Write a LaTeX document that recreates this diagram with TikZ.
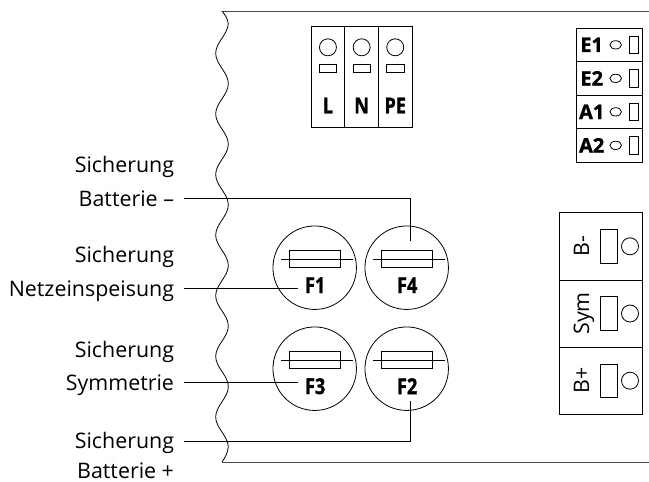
\documentclass[tikz,border=0pt]{standalone}
\usepackage{fontspec}
\setmainfont{Open Sans}[BoldFeatures={FakeBold=1.3}]
\usepackage{tikz}
\usetikzlibrary{calc,shapes.geometric}
\newcommand{\narrowbold}[1]{\scalebox{.82}[1]{\bfseries #1}}
\tikzset{
  edgeline/.style={line width=.9pt,draw=black!70},
  thinline/.style={line width=.8pt},
  lbl/.style={anchor=east,inner sep=0pt,outer xsep=10pt,text height=15pt,text depth=0pt,font=\fontsize{21.4}{24}\selectfont},
  fusering/.style={draw,circle,thinline,inner sep=0pt,minimum size=83.5pt},
  fusebody/.style={draw,thinline,inner sep=0pt,minimum width=50.5pt,minimum height=17pt},
  fusename/.style={inner sep=0pt,outer xsep=7pt,font=\fontsize{22}{24}\selectfont},
  cell/.style={draw,thinline,anchor=north west,inner sep=0pt},
  hole/.style={draw,circle,thinline,inner sep=0pt,minimum size=17pt},
  slot/.style={draw,thinline,inner sep=0pt}
}
\begin{document}
\begin{tikzpicture}[x=1pt,y=-1pt]
  \useasboundingbox (0,0) rectangle (649,482);
  % housing
  \draw[edgeline] (649,11)--(222,11);
  \draw[edgeline] (649,462)--(222,462);
  \draw[thinline] (222,11) .. controls (225,15) and (228,19) .. (228,23)
    plot[domain=23:447,samples=113,smooth] ({222+6.3*cos((\x-23)*5.94)},\x)
    .. controls (228,452) and (225,458) .. (222,462);
  % L N PE
  \foreach \nm/\xa/\txt in {L/310.7/L,N/344.4/N,PE/378/PE} {
    \node[cell,minimum width=33.7pt,minimum height=100.7pt] (cell\nm) at (\xa,26) {};
    \node[hole] (hole\nm) at ($(cell\nm.north)+(0,21.3)$) {};
    \node[slot,minimum width=17.4pt,minimum height=8pt] (slot\nm) at ($(cell\nm.north)+(0,42.3)$) {};
    \node[inner sep=0pt,font=\fontsize{22}{24}\selectfont] (name\nm) at ($(cell\nm.north)+(0,79.5)$) {\narrowbold{\txt}};
  }
  % E1 E2 A1 A2
  \foreach \nm/\ya in {E1/27.7,E2/61.2,A1/94.7,A2/128.2} {
    \node[cell,minimum width=66.6pt,minimum height=33.5pt] (cell\nm) at (575.7,\ya) {};
    \node[inner sep=0pt,font=\fontsize{20}{22}\selectfont\bfseries] (name\nm) at ($(cell\nm.west)+(16,0)$) {\nm};
    \node[draw,ellipse,thinline,inner sep=0pt,minimum width=11.5pt,minimum height=8.3pt] (hole\nm) at ($(cell\nm.west)+(40,0)$) {};
    \node[slot,minimum width=9pt,minimum height=17.7pt] (slot\nm) at ($(cell\nm.west)+(58.1,0)$) {};
  }
  % B- Sym B+
  \foreach \nm/\ya/\txt in {Bm/212.3/B-,Sym/279.5/Sym,Bp/346.7/B+} {
    \node[cell,minimum width=83.3pt,minimum height=67.2pt] (cell\nm) at (559,\ya) {};
    \node[rotate=90,inner sep=0pt,text height=15pt,text depth=0pt,font=\fontsize{21.4}{24}\selectfont] (name\nm) at ($(cell\nm.west)+(22.5,0)$) {\txt};
    \node[slot,minimum width=17pt,minimum height=33.5pt] (slot\nm) at ($(cell\nm.west)+(50.2,0)$) {};
    \node[hole] (hole\nm) at ($(cell\nm.west)+(71,0)$) {};
  }
  % fuses
  \foreach \nm/\xa/\ya in {F1/314.7/267.7,F4/406.7/267.7,F3/314.7/368.7,F2/406.7/368.7} {
    \node[fusering] (ring\nm) at (\xa,\ya) {};
    \node[fusebody] (body\nm) at ($(ring\nm.center)+(0,-8.5)$) {};
    \draw[thinline] ($(ring\nm.center)+(-33.5,-8.5)$) -- ($(ring\nm.center)+(38,-8.5)$);
    \node[fusename] (\nm) at ($(ring\nm.center)+(0.5,17.5)$) {\narrowbold{\nm}};
  }
  \coordinate (wireF4) at (410,241);
  \coordinate (wireF2) at (410,400.5);
  % labels
  \node[lbl] (sichA) at (184,164.5) {Sicherung};
  \node[lbl] (batMinus) at (184,198.7) {Batterie --};
  \node[lbl] (sichB) at (184,254.5) {Sicherung};
  \node[lbl] (netz) at (184,288.5) {Netzeinspeisung};
  \node[lbl] (sichC) at (184,349.5) {Sicherung};
  \node[lbl] (symm) at (184,382.7) {Symmetrie};
  \node[lbl] (sichD) at (184,441) {Sicherung};
  \node[lbl] (batPlus) at (184,470.5) {Batterie +};
  % connectors
  \draw[thinline] (batMinus.east) -| (wireF4);
  \draw[thinline] (netz.east) -- (netz.east -| F1.west);
  \draw[thinline] (symm.east) -- (symm.east -| F3.west);
  \draw[thinline] (sichD.east) -| (wireF2);
\end{tikzpicture}
\end{document}
